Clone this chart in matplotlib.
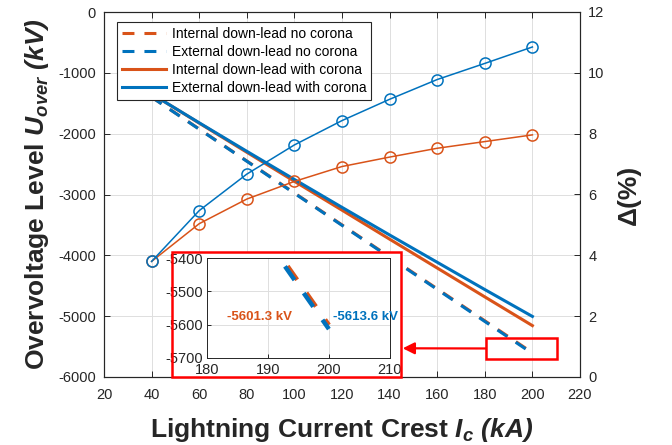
import matplotlib
matplotlib.use('Agg')
import matplotlib.pyplot as plt
from matplotlib.patches import Rectangle

# ---------------- data ----------------
current = [40, 60, 80, 100, 120, 140, 160, 180, 200]
int_no_corona = [-1398, -1923.4, -2448.8, -2974.2, -3499.7, -4025.1, -4550.5, -5075.9, -5601.3]
ext_no_corona = [-1400, -1926.7, -2453.4, -2980.1, -3506.8, -4033.5, -4560.2, -5086.9, -5613.6]
int_with_corona = [-1344.9, -1826.5, -2305.5, -2783.0, -3257.5, -3734.1, -4208.3, -4683.0, -5155.4]
ext_with_corona = [-1346.8, -1821.3, -2289.8, -2752.7, -3211.2, -3665.3, -4114.2, -4562.4, -5004.5]
delta_int = [3.8, 5.04, 5.85, 6.43, 6.92, 7.23, 7.52, 7.74, 7.96]
delta_ext = [3.8, 5.47, 6.67, 7.63, 8.43, 9.13, 9.78, 10.31, 10.85]

x_ticks = [20, 40, 60, 80, 100, 120, 140, 160, 180, 200, 220]
y_ticks = [-6000, -5000, -4000, -3000, -2000, -1000, 0]
delta_ticks = [0, 2, 4, 6, 8, 10, 12]
inset_x_ticks = [180, 190, 200, 210]
inset_y_ticks = [-5700, -5600, -5500, -5400]

legend_labels = ['Internal down-lead no corona', 'External down-lead no corona',
                 'Internal down-lead with corona', 'External down-lead with corona']
label_int_end = '-5601.3 kV'
label_ext_end = '-5613.6 kV'

# ---------------- style ----------------
BLUE = '#0072BD'
ORANGE = '#D95319'
DARK = '#262626'
FONT = 'Liberation Sans'

plt.rcParams.update({
    'font.family': [FONT, 'DejaVu Sans'],
    'axes.unicode_minus': False,
    'lines.scale_dashes': False,
    'mathtext.fontset': 'custom',
    'mathtext.rm': FONT,
    'mathtext.it': FONT + ':italic',
    'mathtext.bf': FONT + ':bold',
    'mathtext.bfit': FONT + ':italic:bold',
    'mathtext.sf': FONT,
})

W, H = 672, 445
fig = plt.figure(figsize=(W / 100, H / 100), dpi=100)

def fx(px):
    return px / W

def fy(py):
    return 1 - py / H

ax = fig.add_axes([fx(104), fy(377), fx(580) - fx(104), fy(12) - fy(377)])

dash_main = (0, (8.6, 7.2))
l1, = ax.plot(current, int_no_corona, color=ORANGE, lw=2.2, linestyle=dash_main)
l2, = ax.plot(current, ext_no_corona, color=BLUE, lw=2.2, linestyle=dash_main)
l3, = ax.plot(current, int_with_corona, color=ORANGE, lw=2.2)
l4, = ax.plot(current, ext_with_corona, color=BLUE, lw=2.2)

ax.set_xlim(20, 220)
ax.set_ylim(-6000, 0)
ax.set_xticks(x_ticks)
ax.set_yticks(y_ticks)
ax.grid(True, color='#dedede', lw=0.7)
ax.tick_params(axis='both', direction='in', labelsize=10.5, colors=DARK, length=4, width=0.7)
ax.tick_params(axis='x', top=True, pad=8)
ax.tick_params(axis='y', right=False, pad=6)
for s in ax.spines.values():
    s.set_color(DARK)
    s.set_linewidth(0.8)

ax.set_xlabel(r'Lightning Current Crest $\mathbfit{I_c}$ $\mathbfit{(kA)}$',
              fontsize=19, fontweight='bold', color=DARK, labelpad=10)
ax.set_ylabel(r'Overvoltage Level $\mathbfit{U}_{\mathbfit{over}}$ $\mathbfit{(kV)}$',
              fontsize=19, fontweight='bold', color=DARK)
ax.yaxis.set_label_coords(-0.112, 0.5)

ax2 = ax.twinx()
ax2.plot(current, delta_int, color=ORANGE, lw=1.1, marker='o', mfc='none', ms=8, mew=1.1)
ax2.plot(current, delta_ext, color=BLUE, lw=1.1, marker='o', mfc='none', ms=8, mew=1.1)
ax2.set_ylim(0, 12)
ax2.set_yticks(delta_ticks)
ax2.tick_params(axis='y', direction='in', labelsize=10.5, colors=DARK, length=4, width=0.7, pad=6)
for s in ax2.spines.values():
    s.set_color(DARK)
    s.set_linewidth(0.8)
ax2.set_ylabel('Δ(%)', fontsize=19, fontweight='bold', color=DARK)
ax2.yaxis.set_label_coords(1.078, 0.5)

leg = ax2.legend([l1, l2, l3, l4], legend_labels, loc='upper left',
                 bbox_to_anchor=(0.027, 0.973), borderaxespad=0, fontsize=10,
                 fancybox=False, framealpha=1, edgecolor=DARK, handlelength=3.2,
                 labelspacing=0.3, borderpad=0.35, handletextpad=0.4)
leg.get_frame().set_linewidth(0.8)

# red marker box and arrow in main axes
ax.add_patch(Rectangle((180.4, -5712), 29.8, 355, fill=False, ec='red', lw=1.8,
                       clip_on=False, zorder=6))
ax.annotate('', xy=(fx(402.7), fy(348.3)), xycoords='figure fraction',
            xytext=(180.4, -5531), textcoords='data',
            arrowprops=dict(arrowstyle='-|>,head_length=0.7,head_width=0.35',
                            color='red', lw=1.6, shrinkA=0, shrinkB=0), zorder=6)

# white panel and red frame for inset
fig.add_artist(Rectangle((fx(172), fy(377)), fx(401) - fx(172), fy(252) - fy(377),
                         transform=fig.transFigure, fc='white', ec='none', zorder=2))
fig.add_artist(Rectangle((fx(172), fy(377)), fx(401) - fx(172), fy(252) - fy(377),
                         transform=fig.transFigure, fill=False, ec='red', lw=1.8, zorder=10))

axi = fig.add_axes([fx(206.7), fy(357.7), fx(390) - fx(206.7), fy(258.3) - fy(357.7)], zorder=5)
dash_in = (0, (12, 11.5))
axi.plot(current, int_no_corona, color=ORANGE, lw=3.2, linestyle=dash_in)
axi.plot(current, ext_no_corona, color=BLUE, lw=3.2, linestyle=dash_in)
axi.set_xlim(180, 210)
axi.set_ylim(-5700, -5400)
axi.set_xticks(inset_x_ticks)
axi.set_yticks(inset_y_ticks)
axi.grid(True, color='#dedede', lw=0.7)
axi.tick_params(axis='both', direction='in', labelsize=10.5, colors=DARK, length=3, width=0.7)
axi.tick_params(axis='y', pad=3)
axi.tick_params(axis='x', pad=4)
for s in axi.spines.values():
    s.set_color(DARK)
    s.set_linewidth(0.7)
axi.text(194, -5578, label_int_end, ha='right', va='center', color=ORANGE,
         fontsize=9.5, fontweight='bold')
axi.text(200.6, -5578, label_ext_end, ha='left', va='center', color=BLUE,
         fontsize=9.5, fontweight='bold')

fig.savefig('out.png', dpi=100)
